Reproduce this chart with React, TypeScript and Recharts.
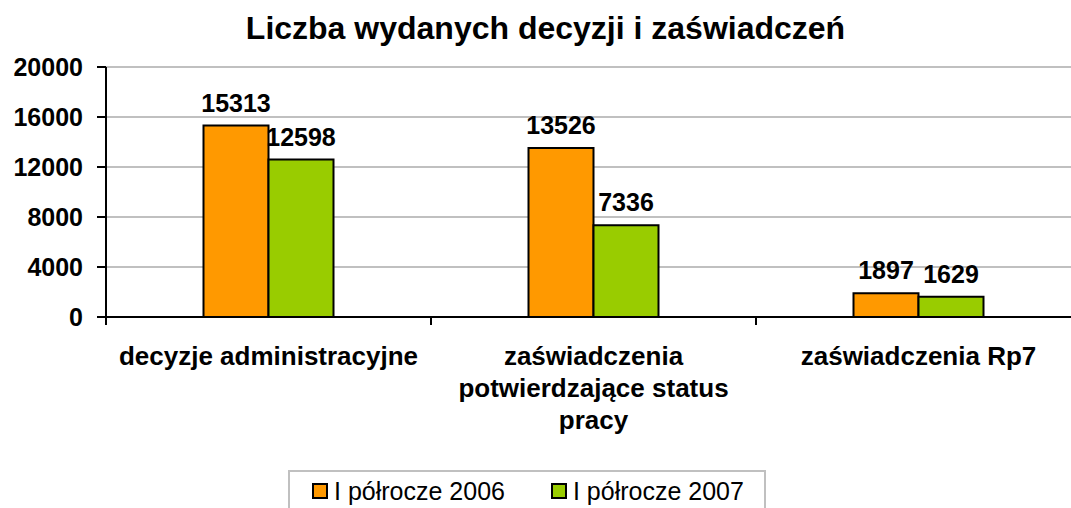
import { BarChart, Bar, XAxis, YAxis, CartesianGrid, Legend, LabelList } from "recharts";

// values
const categories = ["decyzje administracyjne", "zaświadczenia potwierdzające status pracy", "zaświadczenia Rp7"];
const half2006 = [15313, 13526, 1897];
const half2007 = [12598, 7336, 1629];
const yTicks = [0, 4000, 8000, 12000, 16000, 20000];
const seriesNames = ["I półrocze 2006", "I półrocze 2007"];
const seriesColors = ["#FF9900", "#99CC00"];

const data = categories.map((name, i) => ({
  name,
  h2006: half2006[i],
  h2007: half2007[i],
}));

const FONT = "'Liberation Sans', Arial, sans-serif";
const CHART_W = 1090;
const PLOT_LEFT = 106;
const PLOT_RIGHT = 1081;
const BAND = (PLOT_RIGHT - PLOT_LEFT) / categories.length;

function wrap(text: string, maxChars: number) {
  const lines: string[] = [];
  let cur = "";
  text.split(" ").forEach((w) => {
    const next = cur ? cur + " " + w : w;
    if (next.length > maxChars && cur) {
      lines.push(cur);
      cur = w;
    } else {
      cur = next;
    }
  });
  if (cur) lines.push(cur);
  return lines;
}

function CategoryTick(props: any) {
  const { x, y, payload, index } = props;
  const lines = wrap(payload.value, 23);
  const left = x - BAND / 2;
  return (
    <g>
      <line x1={left} x2={left} y1={y} y2={y + 8} stroke="#000" strokeWidth={2} />
      {index === categories.length - 1 && (
        <line x1={x + BAND / 2} x2={x + BAND / 2} y1={y} y2={y + 8} stroke="#000" strokeWidth={2} />
      )}
      <text textAnchor="middle" fontFamily={FONT} fontSize={26} fontWeight="bold" fill="#000">
        {lines.map((l, i) => (
          <tspan key={i} x={x} y={y + 48 + i * 32}>
            {l}
          </tspan>
        ))}
      </text>
    </g>
  );
}

function LegendBox() {
  return (
    <div
      style={{
        border: "2px solid #c0c0c0",
        height: 42,
        boxSizing: "border-box",
        display: "flex",
        alignItems: "center",
        fontFamily: FONT,
        fontSize: 25,
        color: "#000",
        paddingLeft: 22,
        whiteSpace: "nowrap",
      }}
    >
      {seriesNames.map((n, i) => (
        <div key={n} style={{ display: "flex", alignItems: "center", marginRight: 46 }}>
          <span
            style={{
              display: "inline-block",
              width: 16,
              height: 16,
              boxSizing: "border-box",
              border: "2px solid #000",
              background: seriesColors[i],
              marginRight: 6,
            }}
          />
          <span>{n}</span>
        </div>
      ))}
    </div>
  );
}

export default function App() {
  return (
    <div style={{ position: "absolute", left: 0, top: 0, width: 1071, height: 508, overflow: "hidden", background: "#fff" }}>
      <div
        style={{
          position: "absolute",
          left: 0,
          width: 1071,
          top: 12,
          textAlign: "center",
          fontFamily: FONT,
          fontSize: 32,
          fontWeight: "bold",
          paddingLeft: 20,
          boxSizing: "border-box",
          lineHeight: "32px",
          whiteSpace: "nowrap",
        }}
      >
        Liczba wydanych decyzji i zaświadczeń
      </div>
      <BarChart
        width={CHART_W}
        height={508}
        data={data}
        margin={{ top: 67, right: CHART_W - PLOT_RIGHT, left: 0, bottom: 0 }}
        barCategoryGap="30%"
        barGap={0}
      >
        <CartesianGrid vertical={false} stroke="#c0c0c0" strokeWidth={2} />
        <XAxis
          dataKey="name"
          height={191}
          interval={0}
          tickSize={0}
          tickMargin={0}
          tickLine={false}
          axisLine={{ stroke: "#000", strokeWidth: 2 }}
          tick={<CategoryTick />}
        />
        <YAxis
          width={PLOT_LEFT}
          domain={[0, 20000]}
          ticks={yTicks}
          interval={0}
          tickSize={9}
          tickMargin={14}
          axisLine={{ stroke: "#000", strokeWidth: 2 }}
          tickLine={{ stroke: "#000", strokeWidth: 2 }}
          tick={{ fill: "#000", fontSize: 25, fontWeight: "bold", fontFamily: FONT }}
        />
        <Legend
          layout="vertical"
          verticalAlign="middle"
          align="center"
          content={<LegendBox />}
          wrapperStyle={{ left: 288, top: 470, width: 478 }}
        />
        <Bar dataKey="h2006" name={seriesNames[0]} fill={seriesColors[0]} stroke="#000" strokeWidth={2} isAnimationActive={false}>
          <LabelList dataKey="h2006" position="top" offset={14} fill="#000" fontSize={25} fontWeight="bold" fontFamily={FONT} />
        </Bar>
        <Bar dataKey="h2007" name={seriesNames[1]} fill={seriesColors[1]} stroke="#000" strokeWidth={2} isAnimationActive={false}>
          <LabelList dataKey="h2007" position="top" offset={14} fill="#000" fontSize={25} fontWeight="bold" fontFamily={FONT} />
        </Bar>
      </BarChart>
    </div>
  );
}
